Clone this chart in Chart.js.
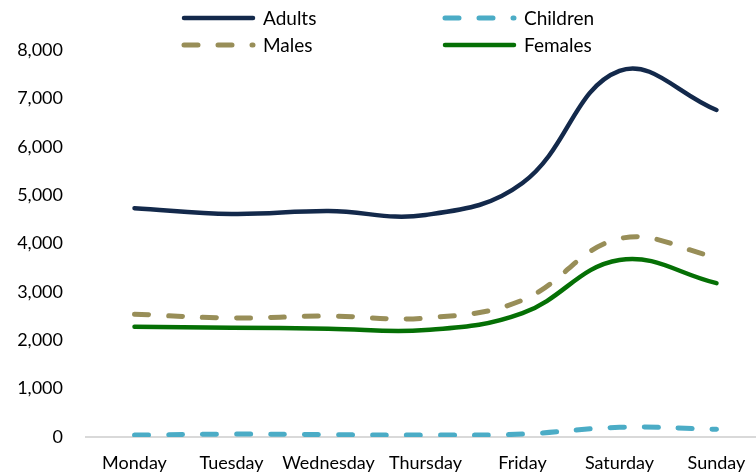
<!DOCTYPE html>
<html>
<head>
<meta charset="utf-8">
<script src="https://cdn.jsdelivr.net/npm/chart.js@4"></script>
<style>
  html, body { margin: 0; padding: 0; background: #fff; overflow: hidden; }
  /* il grafico originale continua oltre il bordo destro */
  #wrap { width: 765px; height: 474px; }
</style>
</head>
<body>
<div id="wrap"><canvas id="chart"></canvas></div>
<script>
const days = ['Monday', 'Tuesday', 'Wednesday', 'Thursday', 'Friday', 'Saturday', 'Sunday'];
const adults = [4730, 4610, 4670, 4590, 5250, 7570, 6760];
const children = [40, 60, 50, 40, 60, 200, 160];
const males = [2540, 2460, 2500, 2460, 2830, 4100, 3720];
const females = [2280, 2260, 2240, 2210, 2560, 3660, 3180];
const yTicks = [0, 1000, 2000, 3000, 4000, 5000, 6000, 7000, 8000];

const fontFamily = 'Lato, "Noto Sans", sans-serif';

function serie(label, data, color, width, dash) {
    return {
        label: label,
        data: data,
        borderColor: color,
        backgroundColor: color,
        borderWidth: width,
        borderDash: dash,
        borderCapStyle: 'round',
        borderJoinStyle: 'round',
        tension: 0.4,
        pointRadius: 0,
        fill: false
    };
}

// legenda su due righe, disegnata a mano come nell'originale
const legendaPlugin = {
    id: 'legenda',
    afterDraw(chart) {
        const c = chart.ctx;
        const posizioni = [
            { x: 184, y: 18 }, { x: 445, y: 18 },
            { x: 184, y: 45 }, { x: 445, y: 45 }
        ];
        c.save();
        chart.data.datasets.forEach((ds, i) => {
            const p = posizioni[i];
            c.beginPath();
            c.strokeStyle = ds.borderColor;
            c.lineWidth = ds.borderWidth;
            c.lineCap = 'round';
            c.setLineDash(ds.borderDash || []);
            c.moveTo(p.x, p.y);
            c.lineTo(p.x + 69, p.y);
            c.stroke();
            c.setLineDash([]);
            c.fillStyle = '#000';
            c.font = '19px ' + fontFamily;
            c.textBaseline = 'middle';
            c.textAlign = 'left';
            c.fillText(ds.label, p.x + 79, p.y + 1);
        });
        c.restore();
    }
};

const ctx = document.getElementById('chart').getContext('2d');
const chart = new Chart(ctx, {
    type: 'line',
    data: {
        labels: days,
        datasets: [
            serie('Adults', adults, '#13294b', 4.5, []),
            serie('Children', children, '#4bacc6', 5, [14, 20]),
            serie('Males', males, '#988e58', 5, [14, 20]),
            serie('Females', females, '#057005', 4.5, [])
        ]
    },
    options: {
        responsive: true,
        maintainAspectRatio: false,
        animation: false,
        layout: {
            padding: { top: 50, left: 14, right: 0, bottom: 0 }
        },
        plugins: {
            legend: { display: false },
            tooltip: { enabled: false }
        },
        scales: {
            x: {
                offset: true,
                afterFit: (scale) => { scale.height = 37; },
                grid: { display: false, drawTicks: false },
                border: { display: true, color: '#d9d9d9', width: 2 },
                ticks: {
                    color: '#000',
                    padding: 15,
                    maxRotation: 0,
                    autoSkip: false,
                    font: { family: fontFamily, size: 18 }
                }
            },
            y: {
                min: 0,
                max: 8000,
                afterFit: (scale) => { scale.width = 72; },
                afterBuildTicks: (scale) => {
                    scale.ticks = yTicks.map(v => ({ value: v }));
                },
                grid: { display: false, drawTicks: false },
                border: { display: false },
                ticks: {
                    color: '#000',
                    padding: 23,
                    font: { family: fontFamily, size: 18 },
                    callback: (v) => v.toLocaleString('en-US')
                }
            }
        }
    },
    plugins: [legendaPlugin]
});
</script>
</body>
</html>
